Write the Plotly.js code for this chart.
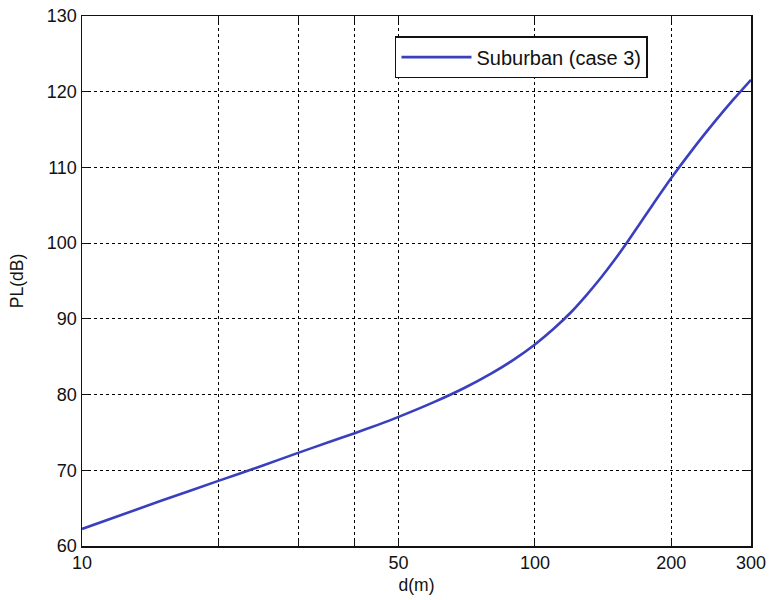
<!DOCTYPE html>
<html>
<head>
<meta charset="utf-8">
<script src="https://cdn.plot.ly/plotly-3.0.1.min.js"></script>
<style>html,body{margin:0;padding:0;background:#fff}#chart{width:770px;height:600px}</style>
</head>
<body>
<div id="chart"></div>
<script>
const distance = [10, 15, 20, 25, 30, 35, 40, 45, 50, 60, 70, 80, 90, 100, 110, 120, 130, 140, 150, 160, 170, 180, 200, 225, 250, 275, 300];
const pathLoss = [62.25, 66.0, 68.6, 70.6, 72.3, 73.7, 74.9, 76.0, 77.05, 79.03, 80.9, 82.76, 84.65, 86.62, 88.69, 90.84, 93.14, 95.46, 97.8, 100.15, 102.47, 104.65, 108.59, 112.68, 116.11, 119.05, 121.58];
const tickValues = [10, 20, 30, 40, 50, 100, 200, 300];
const tickLabels = ['10', '', '', '', '50', '100', '200', '300'];
const yTicks = [60, 70, 80, 90, 100, 110, 120, 130];
const seriesName = 'Suburban (case 3)';

const fam = 'Liberation Sans, Arial, sans-serif';
const tickFont = {family: fam, size: 18, color: '#111'};
const titleFont = {family: fam, size: 17.5, color: '#111'};
Plotly.newPlot('chart', [{
  x: distance, y: pathLoss, type: 'scatter', mode: 'lines', name: seriesName,
  line: {color: '#3a40bd', width: 2.6, shape: 'spline', smoothing: 0.6}
}], {
  width: 770, height: 600,
  margin: {l: 82, r: 19, t: 16, b: 54},
  paper_bgcolor: '#fff', plot_bgcolor: '#fff',
  font: tickFont,
  showlegend: true,
  legend: {x: 0.846, y: 0.962, xanchor: 'right', yanchor: 'top', bgcolor: '#fff',
           bordercolor: '#111', borderwidth: 1.5, itemwidth: 70,
           font: {family: fam, size: 20, color: '#111'}},
  xaxis: {
    type: 'log', range: [1, Math.log10(300)], tickmode: 'array',
    tickvals: tickValues, ticktext: tickLabels, tickfont: tickFont,
    showgrid: true, gridcolor: '#000', griddash: '3px,3px', gridwidth: 1,
    showline: true, linecolor: '#111', linewidth: 1.5, mirror: 'ticks',
    ticks: 'inside', ticklen: 6, tickcolor: '#111', zeroline: false,
    title: {text: 'd(m)', font: titleFont, standoff: 6}
  },
  yaxis: {
    range: [60, 130], tickmode: 'array', tickvals: yTicks, tickfont: tickFont,
    showgrid: true, gridcolor: '#000', griddash: '3px,3px', gridwidth: 1,
    showline: true, linecolor: '#111', linewidth: 1.5, mirror: 'ticks',
    ticks: 'inside', ticklen: 6, tickcolor: '#111', zeroline: false,
    title: {text: 'PL(dB)', font: titleFont, standoff: 18}
  }
}, {displayModeBar: false, staticPlot: true});
</script>
</body>
</html>
